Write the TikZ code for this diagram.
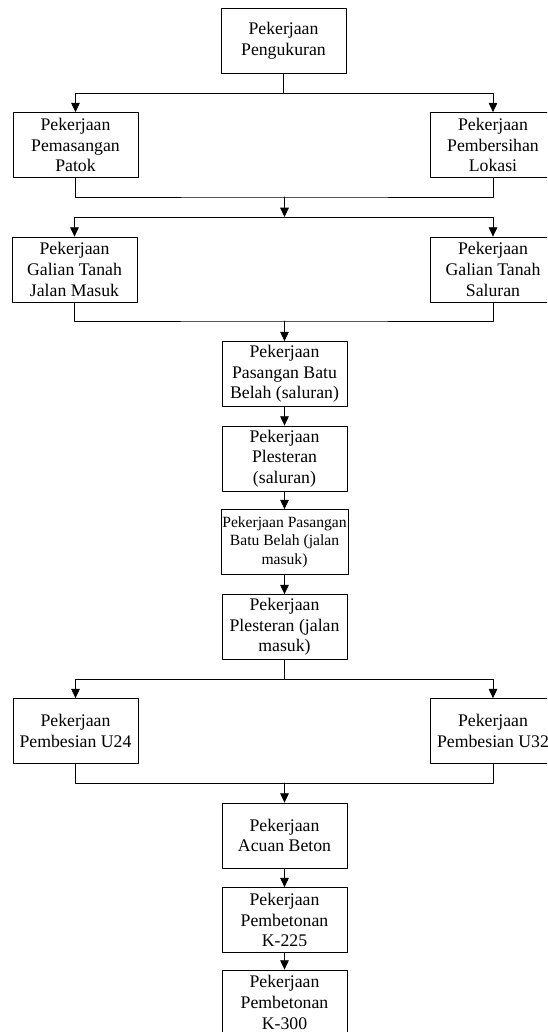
\documentclass[tikz,border=0pt]{standalone}
\usepackage{fontspec}
\setmainfont{Liberation Serif}
\usetikzlibrary{arrows.meta}

\begin{document}
\begin{tikzpicture}[line cap=round,line join=round,x=0.75pt,y=-0.75pt,
		kotak/.style={draw,line width=0.6pt,minimum width=93.75pt,minimum height=48.75pt,inner sep=1pt,align=center,font=\fontsize{13.3}{15.5}\selectfont},
		kecil/.style={font=\fontsize{11.7}{14}\selectfont},
		garis/.style={line width=0.6pt},
		panah/.style={garis,-{Triangle[length=7pt,width=6.5pt]}}]
		\clip (0,0) rectangle (547,1032);
		\node[kotak] (peng) at (283.5,40.5) {Pekerjaan\\Pengukuran};
		\node[kotak] (patok) at (75.5,145) {Pekerjaan\\Pemasangan\\Patok};
		\node[kotak] (lokasi) at (493,145) {Pekerjaan\\Pembersihan\\Lokasi};
		\node[kotak] (galjm) at (74.5,269.5) {Pekerjaan\\Galian Tanah\\Jalan Masuk};
		\node[kotak] (galsal) at (493,269.5) {Pekerjaan\\Galian Tanah\\Saluran};
		\node[kotak] (bbsal) at (284.5,374) {Pekerjaan\\Pasangan Batu\\Belah (saluran)};
		\node[kotak] (plsal) at (284.5,458.5) {Pekerjaan\\Plesteran\\(saluran)};
		\node[kotak,kecil] (bbjm) at (284.5,542) {Pekerjaan Pasangan\\Batu Belah (jalan\\masuk)};
		\node[kotak] (pljm) at (284.5,627) {Pekerjaan\\Plesteran (jalan\\masuk)};
		\node[kotak] (u24) at (75.5,731) {Pekerjaan\\Pembesian U24};
		\node[kotak] (u32) at (493,731) {Pekerjaan\\Pembesian U32};
		\node[kotak] (acuan) at (284.5,835.5) {Pekerjaan\\Acuan Beton};
		\node[kotak] (k225) at (284.5,920) {Pekerjaan\\Pembetonan\\K-225};
		\node[kotak] (k300) at (284.5,1002.5) {Pekerjaan\\Pembetonan\\K-300};
		\coordinate (h1) at (283.5,93);
		\coordinate (j1) at (284.5,197);
		\coordinate (h2) at (284.5,217);
		\coordinate (j2) at (284.5,321);
		\coordinate (h3) at (284.5,679);
		\coordinate (j3) at (284.5,783);
		\draw[garis] (peng.south) -- (h1);
		\draw[panah] (h1) -| (patok.north);
		\draw[panah] (h1) -| (lokasi.north);
		\draw[garis] (patok.south) |- (j1) -| (lokasi.south);
		\draw[panah] (j1) -- (h2);
		\draw[panah] (h2) -| (galjm.north);
		\draw[panah] (h2) -| (galsal.north);
		\draw[garis] (galjm.south) |- (j2) -| (galsal.south);
		\draw[panah] (j2) -- (bbsal.north);
		\draw[panah] (bbsal) -- (plsal);
		\draw[panah] (plsal) -- (bbjm);
		\draw[panah] (bbjm) -- (pljm);
		\draw[garis] (pljm.south) -- (h3);
		\draw[panah] (h3) -| (u24.north);
		\draw[panah] (h3) -| (u32.north);
		\draw[garis] (u24.south) |- (j3) -| (u32.south);
		\draw[panah] (j3) -- (acuan.north);
		\draw[panah] (acuan) -- (k225);
		\draw[panah] (k225) -- (k300);
	\end{tikzpicture}
\end{document}
